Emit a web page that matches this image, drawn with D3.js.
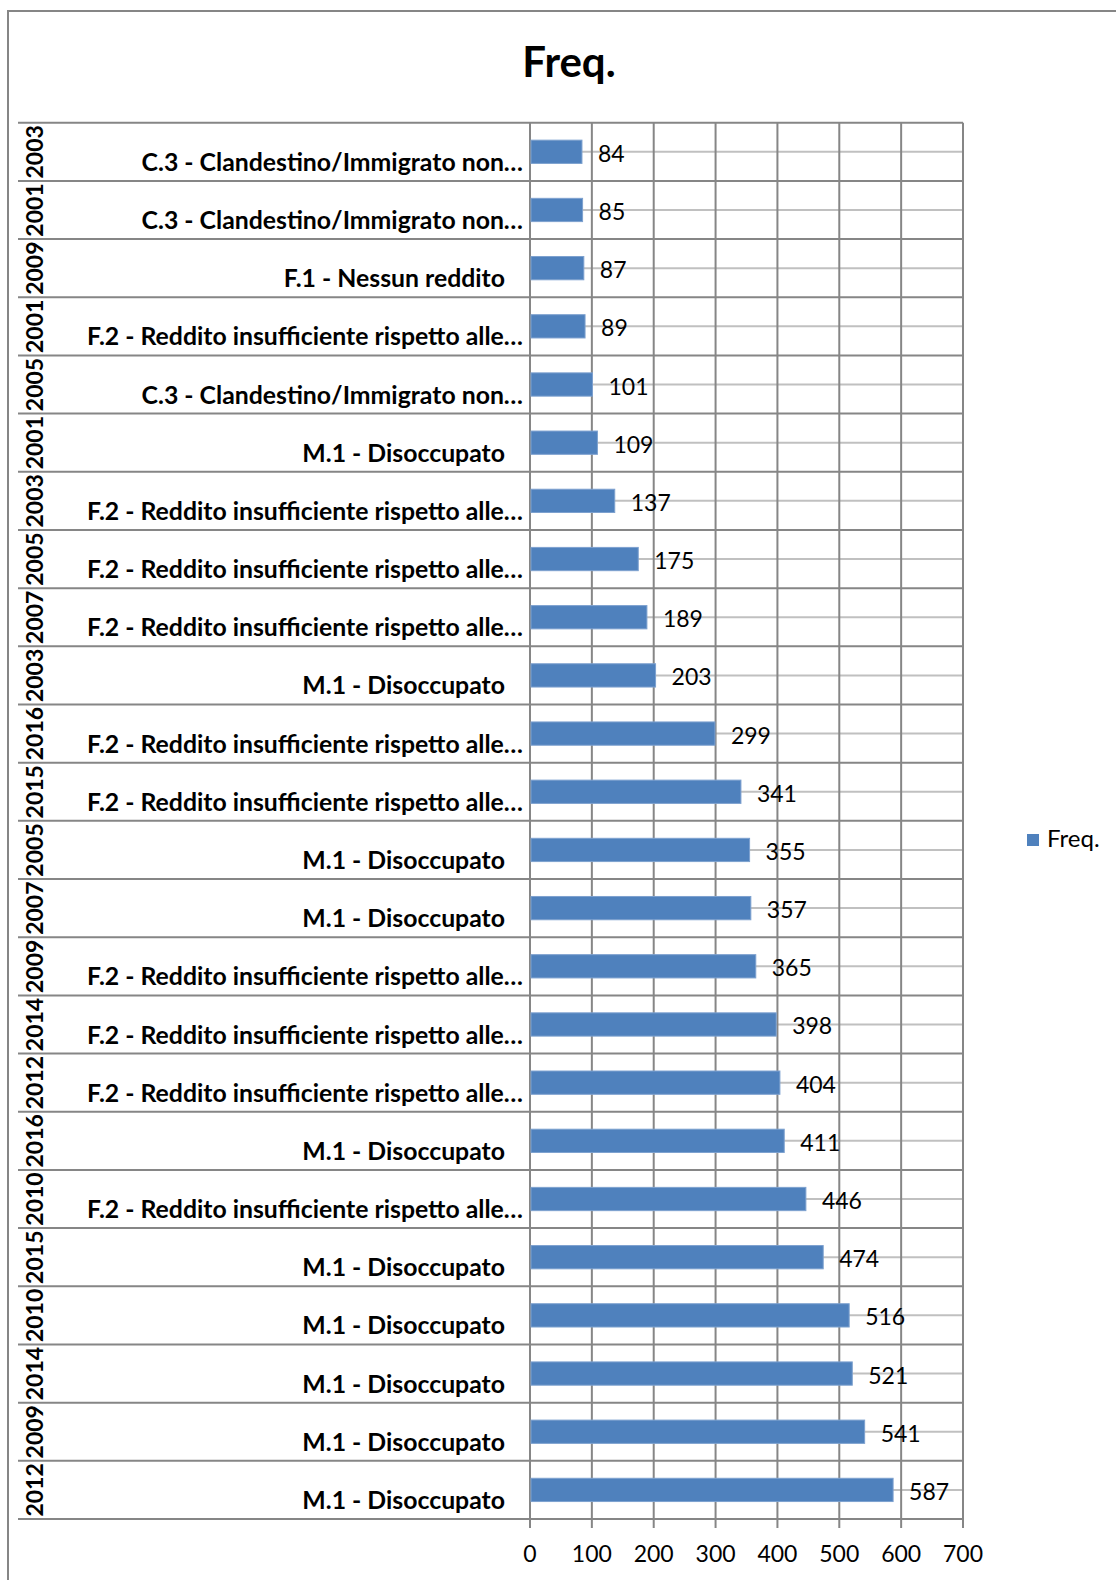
<!DOCTYPE html>
<html><head><meta charset="utf-8">
<script src="https://cdn.jsdelivr.net/npm/d3@7"></script>
<style>body{margin:0;background:#fff}svg{display:block}text{font-family:Lato,"Open Sans",sans-serif;fill:#000}</style>
</head><body><svg id="c" width="1116" height="1580"></svg>
<script>
const years = ["2003","2001","2009","2001","2005","2001","2003","2005","2007","2003","2016","2015","2005","2007","2009","2014","2012","2016","2010","2015","2010","2014","2009","2012"];
const categories = [
"C.3 - Clandestino/Immigrato non…","C.3 - Clandestino/Immigrato non…","F.1 - Nessun reddito","F.2 - Reddito insufficiente rispetto alle…",
"C.3 - Clandestino/Immigrato non…","M.1 - Disoccupato","F.2 - Reddito insufficiente rispetto alle…","F.2 - Reddito insufficiente rispetto alle…",
"F.2 - Reddito insufficiente rispetto alle…","M.1 - Disoccupato","F.2 - Reddito insufficiente rispetto alle…","F.2 - Reddito insufficiente rispetto alle…",
"M.1 - Disoccupato","M.1 - Disoccupato","F.2 - Reddito insufficiente rispetto alle…","F.2 - Reddito insufficiente rispetto alle…",
"F.2 - Reddito insufficiente rispetto alle…","M.1 - Disoccupato","F.2 - Reddito insufficiente rispetto alle…","M.1 - Disoccupato",
"M.1 - Disoccupato","M.1 - Disoccupato","M.1 - Disoccupato","M.1 - Disoccupato"];
const freq = [84,85,87,89,101,109,137,175,189,203,299,341,355,357,365,398,404,411,446,474,516,521,541,587];
const xTicks = [0,100,200,300,400,500,600,700];
const seriesName = "Freq.";

const svg = d3.select("#c");
const L = 530, R = 963, T = 122.7, B = 1519;
const dark = "#868686", light = "#c0c0c0", blue = "#4F81BD";
const idx = d3.range(freq.length);
const x = d3.scaleLinear().domain([0,700]).range([L,R]);
const y = d3.scaleBand().domain(idx).range([T,B]).padding(0);
const bw = y.bandwidth();

// outer border
svg.append("rect").attr("x",8).attr("y",11).attr("width",1120).attr("height",1600)
  .attr("fill","none").attr("stroke",dark).attr("stroke-width",2);

svg.append("text").attr("x",569).attr("y",77).attr("text-anchor","middle")
  .style("font-weight","bold").style("font-size","42px").text(seriesName);

// minor gridlines at row centres
svg.append("g").selectAll("line").data(idx).join("line")
  .attr("x1",L).attr("x2",R).attr("y1",d=>y(d)+bw/2).attr("y2",d=>y(d)+bw/2)
  .attr("stroke",light).attr("stroke-width",2);
// vertical gridlines
svg.append("g").selectAll("line").data(xTicks).join("line")
  .attr("x1",d=>x(d)).attr("x2",d=>x(d)).attr("y1",T).attr("y2",B+9)
  .attr("stroke",dark).attr("stroke-width",2);
// row boundaries (category axis ticks + gridlines)
const bounds = idx.map(d=>y(d)).concat([B]);
svg.append("g").selectAll("line").data(bounds).join("line")
  .attr("x1",18).attr("x2",R).attr("y1",d=>d).attr("y2",d=>d)
  .attr("stroke",dark).attr("stroke-width",2);

// bars
svg.append("g").selectAll("rect").data(idx).join("rect")
  .attr("x",L+1).attr("y",d=>y(d)+bw*0.3).attr("width",d=>x(freq[d])-L-1).attr("height",bw*0.4)
  .attr("fill",blue).attr("stroke","#7da1cf").attr("stroke-width",1);

// data labels
svg.append("g").selectAll("text").data(idx).join("text")
  .attr("x",d=>x(freq[d])+16).attr("y",d=>y(d)+bw/2+10)
  .style("font-size","23px").text(d=>freq[d]);

// category labels
svg.append("g").selectAll("text").data(idx).join("text")
  .attr("x",d=>categories[d].endsWith("…")?523:505).attr("y",d=>y(d)+bw-10)
  .attr("text-anchor","end").style("font-weight","bold").style("font-size","24.8px")
  .text(d=>categories[d]);

// year labels
svg.append("g").selectAll("text").data(idx).join("text")
  .attr("transform",d=>`translate(43,${y(d)+bw/2}) rotate(-90)`)
  .attr("text-anchor","middle").style("font-weight","bold").style("font-size","23px")
  .text(d=>years[d]);

// x tick labels
svg.append("g").selectAll("text").data(xTicks).join("text")
  .attr("x",d=>x(d)).attr("y",1562).attr("text-anchor","middle")
  .style("font-size","23px").text(d=>d);

// legend
svg.append("rect").attr("x",1027).attr("y",834).attr("width",12).attr("height",12).attr("fill",blue);
svg.append("text").attr("x",1047).attr("y",847).style("font-size","24px").text(seriesName);
</script></body></html>
